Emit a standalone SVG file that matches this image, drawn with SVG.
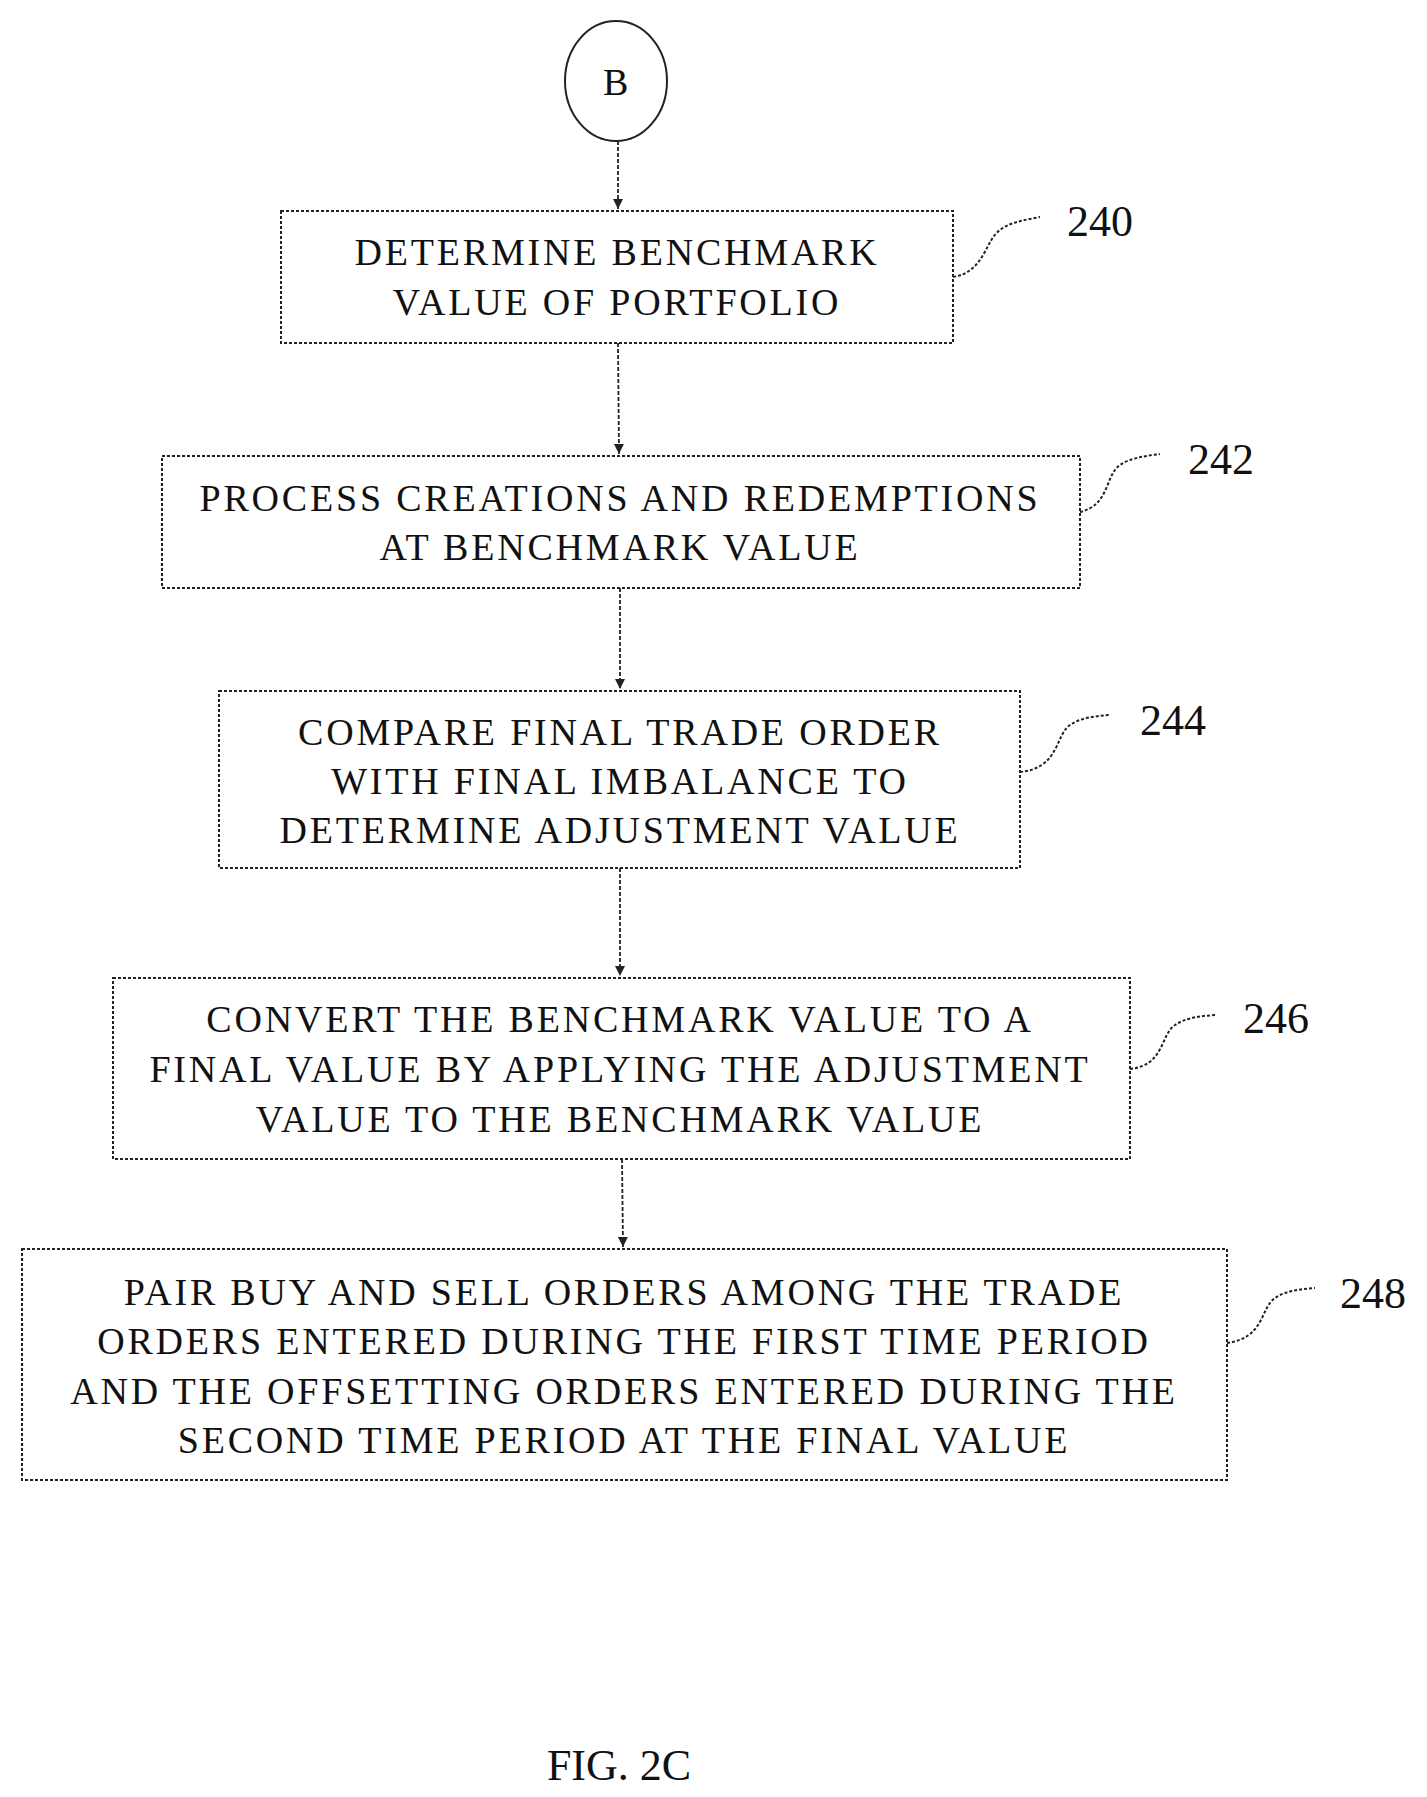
<svg xmlns="http://www.w3.org/2000/svg" width="1427" height="1797" viewBox="0 0 1427 1797">
<style>
.b{fill:#fff;stroke:#222;stroke-width:2;stroke-dasharray:3 2}
.t{font-family:"Liberation Serif",serif;font-size:38px;letter-spacing:2.8px;fill:#111;text-anchor:middle}
.n{font-family:"Liberation Serif",serif;font-size:44px;fill:#111}
.c{stroke:#222;stroke-width:1.8;fill:none;stroke-dasharray:4 2}
.l{stroke:#222;stroke-width:2;fill:none;stroke-dasharray:3 2}
</style>
<defs><marker id="a" markerWidth="12" markerHeight="12" refX="10" refY="6" orient="auto" markerUnits="userSpaceOnUse"><path d="M0,1 L10,6 L0,11 Z" fill="#222"/></marker></defs>
<rect width="1427" height="1797" fill="#fff"/>
<g id="connectors">
<line class="c" x1="618" y1="141" x2="618" y2="209" marker-end="url(#a)"/>
<line class="c" x1="618" y1="343" x2="619" y2="454" marker-end="url(#a)"/>
<line class="c" x1="620" y1="588" x2="620" y2="689" marker-end="url(#a)"/>
<line class="c" x1="620" y1="868" x2="620" y2="976" marker-end="url(#a)"/>
<line class="c" x1="622" y1="1159" x2="623" y2="1247" marker-end="url(#a)"/>
</g>
<g id="B"><ellipse cx="616" cy="81" rx="51" ry="60" fill="#fff" stroke="#222" stroke-width="2"/><text class="t" x="617" y="95">B</text></g>
<g id="n240"><rect class="b" x="281" y="211" width="672" height="132"/><text class="t" x="617" y="265">DETERMINE BENCHMARK</text><text class="t" x="617" y="315">VALUE OF PORTFOLIO</text>
<path class="l" d="M953,277 C985,272 985,240 1000,230 C1010,222 1025,220 1040,217"/><text class="n" x="1067" y="236">240</text></g>
<g id="n242"><rect class="b" x="162" y="456" width="918" height="132"/><text class="t" x="620" y="511">PROCESS CREATIONS AND REDEMPTIONS</text><text class="t" x="620" y="560">AT BENCHMARK VALUE</text>
<path class="l" d="M1080,512 C1110,505 1105,475 1120,465 C1130,458 1145,456 1160,454"/><text class="n" x="1188" y="474">242</text></g>
<g id="n244"><rect class="b" x="219" y="691" width="801" height="177"/><text class="t" x="620" y="745">COMPARE FINAL TRADE ORDER</text><text class="t" x="620" y="794">WITH FINAL IMBALANCE TO</text><text class="t" x="620" y="843">DETERMINE ADJUSTMENT VALUE</text>
<path class="l" d="M1020,772 C1060,768 1055,735 1070,725 C1080,718 1095,716 1110,715"/><text class="n" x="1140" y="735">244</text></g>
<g id="n246"><rect class="b" x="113" y="978" width="1017" height="181"/><text class="t" x="620" y="1032">CONVERT THE BENCHMARK VALUE TO A</text><text class="t" x="620" y="1082">FINAL VALUE BY APPLYING THE ADJUSTMENT</text><text class="t" x="620" y="1132">VALUE TO THE BENCHMARK VALUE</text>
<path class="l" d="M1130,1069 C1165,1065 1160,1035 1175,1025 C1185,1018 1200,1016 1215,1015"/><text class="n" x="1243" y="1033">246</text></g>
<g id="n248"><rect class="b" x="22" y="1249" width="1205" height="231"/><text class="t" x="624" y="1305">PAIR BUY AND SELL ORDERS AMONG THE TRADE</text><text class="t" x="624" y="1354">ORDERS ENTERED DURING THE FIRST TIME PERIOD</text><text class="t" x="624" y="1404">AND THE OFFSETTING ORDERS ENTERED DURING THE</text><text class="t" x="624" y="1453">SECOND TIME PERIOD AT THE FINAL VALUE</text>
<path class="l" d="M1227,1343 C1265,1338 1260,1308 1275,1298 C1285,1291 1300,1289 1315,1288"/><text class="n" x="1340" y="1308">248</text></g>
<text x="619" y="1780" font-family="Liberation Serif,serif" font-size="44" text-anchor="middle" fill="#111">FIG. 2C</text>
</svg>
